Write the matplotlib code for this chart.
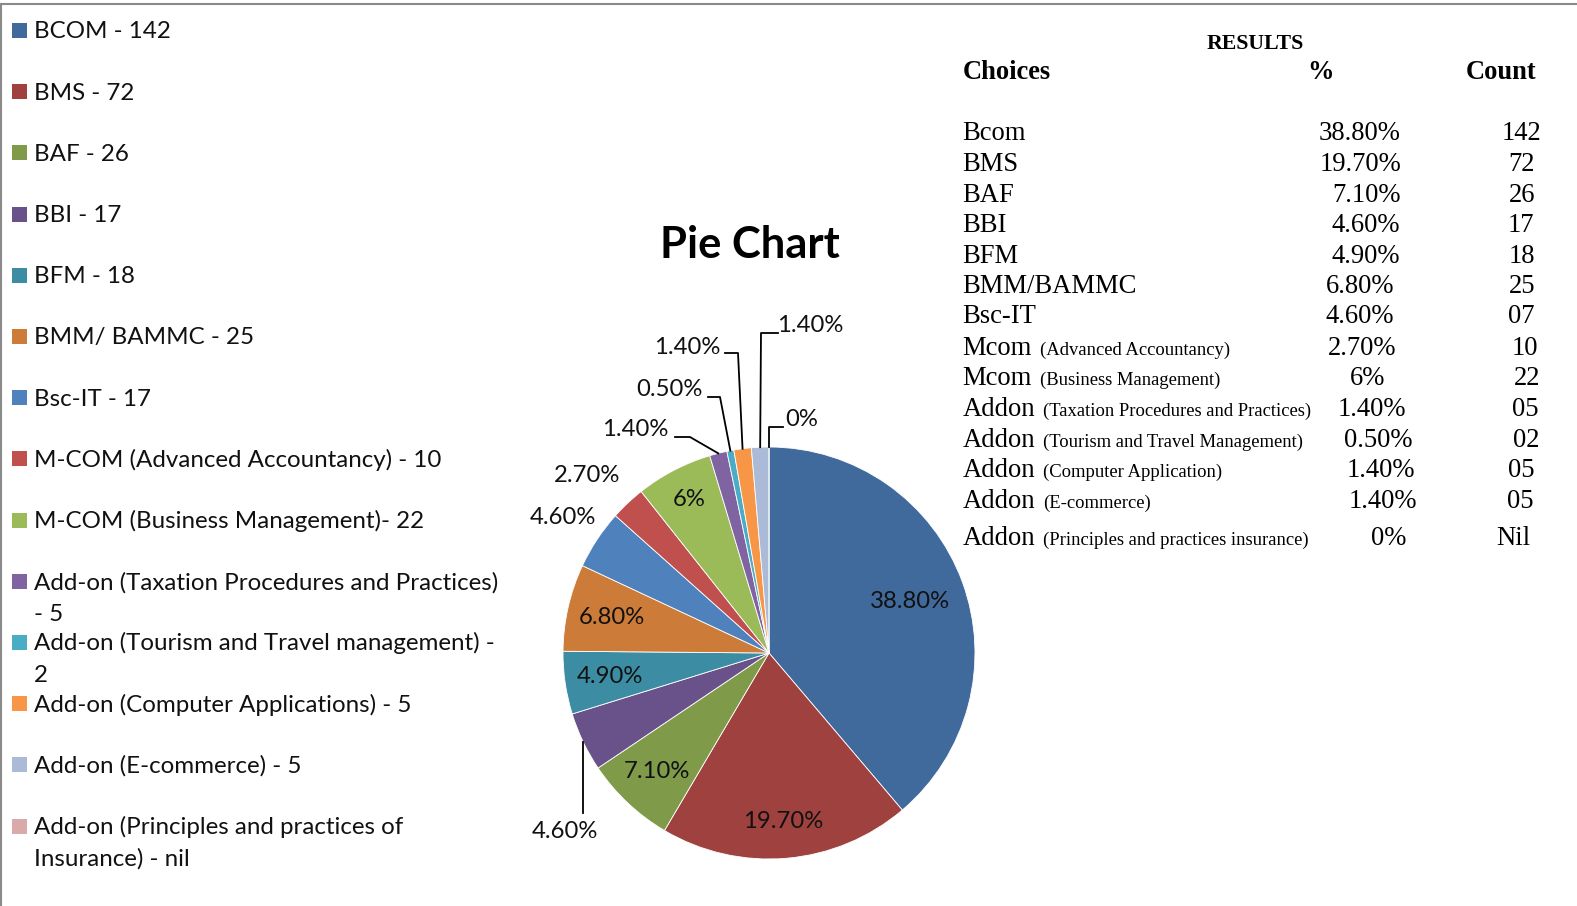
import matplotlib
matplotlib.use("Agg")
import matplotlib.pyplot as plt
from matplotlib.patches import Rectangle
from matplotlib.lines import Line2D
import numpy as np

# ---------------- data ----------------
legend_labels = ["BCOM - 142", "BMS - 72", "BAF - 26", "BBI - 17", "BFM - 18",
                 "BMM/ BAMMC - 25", "Bsc-IT - 17",
                 "M-COM (Advanced Accountancy) - 10",
                 "M-COM (Business Management)- 22",
                 "Add-on (Taxation Procedures and Practices)\n- 5",
                 "Add-on (Tourism and Travel management) -\n2",
                 "Add-on (Computer Applications) - 5",
                 "Add-on (E-commerce) - 5",
                 "Add-on (Principles and practices of\nInsurance) - nil"]
counts = [142, 72, 26, 17, 18, 25, 17, 10, 22, 5, 2, 5, 5, 0]
pct_labels = ["38.80%", "19.70%", "7.10%", "4.60%", "4.90%", "6.80%", "4.60%",
              "2.70%", "6%", "1.40%", "0.50%", "1.40%", "1.40%", "0%"]
colors = ["#416A9C", "#9F413E", "#7F9A48", "#69528A", "#3C8DA3", "#CC7B38",
          "#4F81BD", "#C0504D", "#9BBB59", "#8064A2", "#4BACC6", "#F79646",
          "#AABAD7", "#D9AAA9"]

table_main = ["Bcom", "BMS", "BAF", "BBI", "BFM", "BMM/BAMMC", "Bsc-IT", "Mcom", "Mcom",
              "Addon", "Addon", "Addon", "Addon", "Addon"]
table_sub = ["", "", "", "", "", "", "", "(Advanced Accountancy)", "(Business Management)",
             "(Taxation Procedures and Practices)", "(Tourism and Travel Management)",
             "(Computer Application)", "(E-commerce)", "(Principles and practices insurance)"]
table_pct = ["38.80%", "19.70%", "7.10%", "4.60%", "4.90%", "6.80%", "4.60%", "2.70%",
             "6%", "1.40%", "0.50%", "1.40%", "1.40%", "0%"]
table_count = ["142", "72", "26", "17", "18", "25", "07", "10", "22", "05", "02", "05",
               "05", "Nil"]

# ---------------- layout (pixels, y measured from top) ----------------
W, H = 1577, 906
SANS = ["Lato", "DejaVu Sans"]
SERIF = ["Liberation Serif", "DejaVu Serif"]
pie_cx, pie_cy, pie_r = 769, 653, 206
LBL_FS = 17.2

fig = plt.figure(figsize=(W / 100, H / 100), dpi=100)
ax = fig.add_axes([0, 0, 1, 1])


def Y(y):
    return H - y


wedges, _ = ax.pie(counts, colors=colors, startangle=90, counterclock=False,
                   center=(pie_cx, Y(pie_cy)), radius=pie_r,
                   wedgeprops=dict(edgecolor="white", linewidth=0.6))
ax.set_xlim(0, W)
ax.set_ylim(0, H)
ax.set_aspect("auto")
ax.axis("off")

# inside labels: index -> radial fraction
inside = {0: 0.73, 1: 0.82, 2: 0.79, 4: 0.78, 5: 0.78, 8: 0.84}
for i, frac in inside.items():
    w = wedges[i]
    mid = np.deg2rad((w.theta1 + w.theta2) / 2)
    x = pie_cx + frac * pie_r * np.cos(mid)
    y = Y(pie_cy) + frac * pie_r * np.sin(mid)
    ax.text(x, y, pct_labels[i], ha="center", va="center", fontsize=LBL_FS,
            family=SANS, color="#111111")

# outside labels: index -> (text center, elbow points)
outside = {
    3: ((565, 831), [(None, 813)]),
    6: ((563, 518), None),
    7: ((587, 475), None),
    9: ((635, 430), [(675, 437), (690, 437)]),
    10: ((669, 389), [(708, 397), (720, 397)]),
    11: ((687, 347), [(725, 353), (738, 353)]),
    12: ((810, 325), [(778, 333), (761, 333)]),
    13: ((802, 419), [(783, 427), (769, 427)]),
}
for i, (pos, elbows) in outside.items():
    ax.text(pos[0], Y(pos[1]), pct_labels[i], ha="center", va="center",
            fontsize=LBL_FS, family=SANS, color="#111111")
    if elbows:
        w = wedges[i]
        mid = np.deg2rad((w.theta1 + w.theta2) / 2)
        px = pie_cx + pie_r * np.cos(mid)
        py = Y(pie_cy) + pie_r * np.sin(mid)
        xs, ys = [], []
        for ex, ey in elbows:
            xs.append(px if ex is None else ex)
            ys.append(Y(ey))
        xs.append(px)
        ys.append(py)
        ax.add_line(Line2D(xs, ys, color="black", linewidth=1.3))

# title
ax.text(750, Y(258), "Pie Chart", ha="center", va="baseline", fontsize=31.3,
        fontweight="bold", family=SANS, color="black")

# legend (manual, Excel style)
leg_b0, leg_dy, leg_line = 38.3, 61.2, 31.8
for i, lab in enumerate(legend_labels):
    base = leg_b0 + i * leg_dy
    ax.add_patch(Rectangle((12, Y(base - 0.3)), 15, 15, facecolor=wedges[i].get_facecolor(),
                           edgecolor="none"))
    for k, line in enumerate(lab.split("\n")):
        ax.text(34, Y(base + k * leg_line), line, ha="left", va="baseline",
                fontsize=17.4, family=SANS, color="#111111")

# results table
ax.text(1255.5, Y(49.3), "RESULTS", ha="center", va="baseline", fontsize=15.7,
        fontweight="bold", family=SERIF)
ax.text(962.7, Y(79.3), "Choices", ha="left", va="baseline", fontsize=19.1,
        fontweight="bold", family=SERIF)
ax.text(1320.5, Y(79.3), "%", ha="center", va="baseline", fontsize=19.1,
        fontweight="bold", family=SERIF)
ax.text(1501.3, Y(79.3), "Count", ha="center", va="baseline", fontsize=19.1,
        fontweight="bold", family=SERIF)

row_base = [140, 171, 202, 232, 263, 293, 323, 355, 385, 416, 447, 477, 508, 545]
pct_x = [1360, 1360.5, 1366, 1366, 1366, 1360.5, 1360, 1362, 1368, 1372, 1378, 1380.5,
         1383, 1388.5]
cnt_x = [1522, 1522, 1522, 1521, 1522, 1522, 1521, 1525, 1527, 1525, 1526, 1521, 1520,
         1513]
TFS = 19.2

main_texts = []
for i in range(len(table_main)):
    t = ax.text(962.7, Y(row_base[i]), table_main[i], ha="left", va="baseline",
                fontsize=TFS, family=SERIF)
    main_texts.append(t)
    ax.text(pct_x[i], Y(row_base[i]), table_pct[i], ha="center", va="baseline",
            fontsize=TFS, family=SERIF)
    ax.text(cnt_x[i], Y(row_base[i]), table_count[i], ha="center", va="baseline",
            fontsize=TFS, family=SERIF)

fig.canvas.draw()
renderer = fig.canvas.get_renderer()
inv = ax.transData.inverted()
for i, t in enumerate(main_texts):
    if table_sub[i]:
        bb = t.get_window_extent(renderer)
        x1 = inv.transform((bb.x1, bb.y0))[0]
        ax.text(x1 + 8, Y(row_base[i]), table_sub[i], ha="left", va="baseline",
                fontsize=13.4, family=SERIF)

# page frame lines
fig.add_artist(Line2D([0, 1], [1 - 3.5 / H, 1 - 3.5 / H], transform=fig.transFigure,
                      color="#8a8a8a", linewidth=1.5))
fig.add_artist(Line2D([1 / W, 1 / W], [0, 1 - 3.5 / H], transform=fig.transFigure,
                      color="#8a8a8a", linewidth=1.5))

fig.savefig("out.png", dpi=100, facecolor="white")
